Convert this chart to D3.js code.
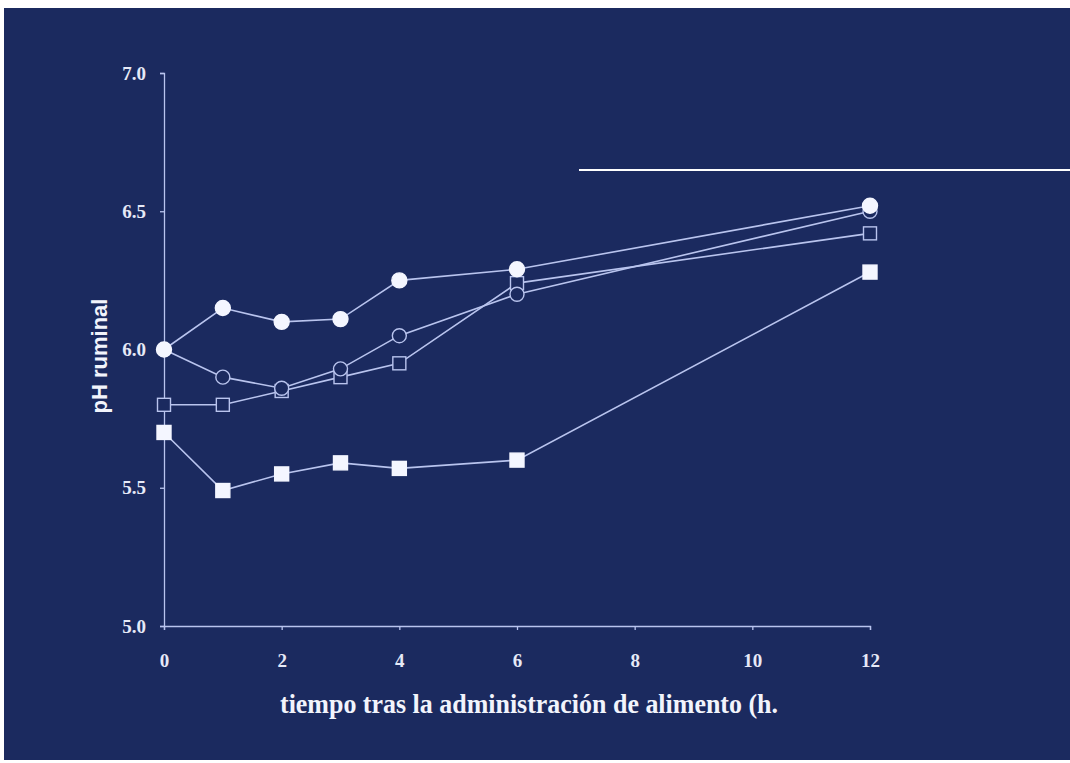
<!DOCTYPE html>
<html>
<head>
<meta charset="utf-8">
<script src="https://cdn.jsdelivr.net/npm/d3@7"></script>
<style>
  body { margin: 0; background: #ffffff; }
  .serif { font-family: "Liberation Serif", "Times New Roman", Times, serif; font-weight: bold; }
  .sans { font-family: "Liberation Sans", Arial, Helvetica, sans-serif; font-weight: bold; }
</style>
</head>
<body>
<div id="d3-container"></div>
<script>
// data
const hours = [0, 1, 2, 3, 4, 6, 12];
const filledCircle = [6.00, 6.15, 6.10, 6.11, 6.25, 6.29, 6.52];
const openCircle = [6.00, 5.90, 5.86, 5.93, 6.05, 6.20, 6.50];
const openSquare = [5.80, 5.80, 5.85, 5.90, 5.95, 6.24, 6.42];
const filledSquare = [5.70, 5.49, 5.55, 5.59, 5.57, 5.60, 6.28];
const xTicks = [0, 2, 4, 6, 8, 10, 12];
const yTicks = [5.0, 5.5, 6.0, 6.5, 7.0];

const series = [
  { name: "openSquare", values: openSquare, shape: "square", fill: false },
  { name: "openCircle", values: openCircle, shape: "circle", fill: false },
  { name: "filledSquare", values: filledSquare, shape: "square", fill: true },
  { name: "filledCircle", values: filledCircle, shape: "circle", fill: true }
];

loadVisualizations = () => {
  const width = 1070;
  const height = 763;
  const margin = { top: 73, bottom: 137, left: 164, right: 200 };

  const bg = "#1b2a5f";
  const lineColor = "#b9c4ee";
  const markColor = "#f4f6ff";

  const svg = d3.select('#d3-container')
    .append('svg')
    .attr('width', width)
    .attr('height', height);

  svg.append("rect")
    .attr("x", 4).attr("y", 8)
    .attr("width", width - 4).attr("height", height - 11)
    .attr("fill", bg);

  // leftover rule in the upper right
  svg.append("line")
    .attr("x1", 579).attr("x2", width)
    .attr("y1", 170).attr("y2", 170)
    .attr("stroke", "#ffffff").attr("stroke-width", 2);

  const x = d3.scaleLinear()
    .domain([0, 12])
    .range([margin.left, width - margin.right]);

  const y = d3.scaleLinear()
    .domain([5, 7])
    .range([height - margin.bottom, margin.top]);

  function yAxis(g) {
    g.attr("transform", `translate(${margin.left},0)`)
      .call(d3.axisLeft(y).tickValues(yTicks).tickFormat(d3.format(".1f")).tickSize(4).tickPadding(14))
      .call(g => g.selectAll("line, path").attr("stroke", lineColor).attr("stroke-width", 1.3))
      .call(g => g.selectAll("text")
        .attr("class", "serif")
        .attr("fill", "#e6e9f7")
        .attr("font-family", null)
        .style("font-size", "19px"));
  }

  function xAxis(g) {
    g.attr("transform", `translate(0,${height - margin.bottom})`)
      .call(d3.axisBottom(x).tickValues(xTicks).tickSize(4).tickPadding(24))
      .call(g => g.selectAll("line, path").attr("stroke", lineColor).attr("stroke-width", 1.3))
      .call(g => g.selectAll("text")
        .attr("class", "serif")
        .attr("fill", "#e6e9f7")
        .style("font-size", "19px"));
  }

  svg.append("g").call(xAxis).attr("font-family", null);
  svg.append("g").call(yAxis).attr("font-family", null);

  const line = d3.line()
    .x((d, i) => x(hours[i]))
    .y(d => y(d));

  svg.append("g")
    .selectAll("path")
    .data(series)
    .join("path")
      .attr("d", d => line(d.values))
      .attr("fill", "none")
      .attr("stroke", lineColor)
      .attr("stroke-width", 1.6);

  const marks = svg.append("g")
    .selectAll("g")
    .data(series)
    .join("g");

  marks.each(function (s) {
    const g = d3.select(this);
    const pts = s.values.map((v, i) => [x(hours[i]), y(v)]);
    if (s.shape === "circle") {
      g.selectAll("circle")
        .data(pts)
        .join("circle")
          .attr("cx", d => d[0])
          .attr("cy", d => d[1])
          .attr("r", s.fill ? 7.5 : 7)
          .attr("fill", s.fill ? markColor : bg)
          .attr("stroke", s.fill ? markColor : lineColor)
          .attr("stroke-width", 1.4);
    } else {
      const size = s.fill ? 14 : 13;
      g.selectAll("rect")
        .data(pts)
        .join("rect")
          .attr("x", d => d[0] - size / 2)
          .attr("y", d => d[1] - size / 2)
          .attr("width", size)
          .attr("height", size)
          .attr("fill", s.fill ? markColor : bg)
          .attr("stroke", s.fill ? markColor : lineColor)
          .attr("stroke-width", 1.4);
    }
  });

  svg.append("text")
    .attr("class", "sans")
    .attr("transform", `translate(107,356) rotate(-90)`)
    .attr("text-anchor", "middle")
    .attr("fill", "#f2f4fc")
    .style("font-size", "22px")
    .text("pH ruminal");

  svg.append("text")
    .attr("class", "serif")
    .attr("x", 280)
    .attr("y", 713)
    .attr("textLength", 498)
    .attr("lengthAdjust", "spacingAndGlyphs")
    .attr("fill", "#f2f4fc")
    .style("font-size", "27px")
    .text("tiempo tras la administración de alimento (h.");
};

window.onload = () => {
  loadVisualizations();
};
</script>
</body>
</html>
